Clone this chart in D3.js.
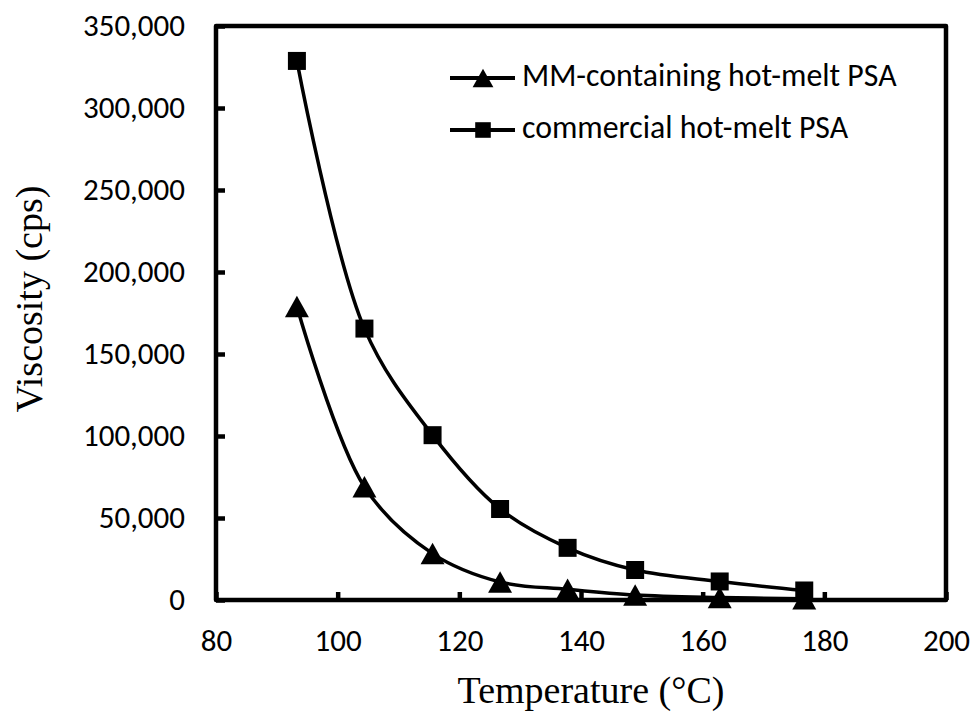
<!DOCTYPE html>
<html>
<head>
<meta charset="utf-8">
<script src="https://cdn.jsdelivr.net/npm/d3@7"></script>
<style>
  body { margin: 0; background: #fff; }
  .tick text { font-family: Calibri, Carlito, "Open Sans", sans-serif; font-size: 31px; fill: #000; }
  .axisTitle { font-family: "Liberation Serif", "Times New Roman", serif; font-size: 38px; fill: #000; }
  .legendText { font-family: Calibri, Carlito, "Open Sans", sans-serif; font-size: 31.8px; fill: #000; }
</style>
</head>
<body>
<svg id="chart" width="975" height="715"></svg>
<script>
// temperatures (°C) of the measurements
var temps = [93.3, 104.4, 115.6, 126.7, 137.8, 148.9, 162.8, 176.7];
// viscosity (cps)
var mmPSA = [179000, 69000, 28300, 11000, 6500, 3000, 1500, 800];
var commercialPSA = [328700, 165500, 100500, 55500, 31800, 18300, 11300, 5800];

var seriesNames = ["MM-containing hot-melt PSA", "commercial hot-melt PSA"];
var xTicks = [80, 100, 120, 140, 160, 180, 200];
var yTicks = [0, 50000, 100000, 150000, 200000, 250000, 300000, 350000];

var svg = d3.select("#chart");

var x = d3.scaleLinear().domain([80, 200]).range([216, 946]);
var y = d3.scaleLinear().domain([0, 350000]).range([600, 26]);

// triangle with its bounding box centred on the point (like Excel markers)
var triangleType = {
    draw: function(context, size){
        var w = Math.sqrt(size) * 1.05, h = w * 0.9;
        context.moveTo(0, -h/2);
        context.lineTo(w/2, h/2);
        context.lineTo(-w/2, h/2);
        context.closePath();
    }
};

var series = [
    {name: seriesNames[0], values: mmPSA, symbol: triangleType, size: 520},
    {name: seriesNames[1], values: commercialPSA, symbol: d3.symbolSquare, size: 324}
];

// y axis (ticks pointing inwards)
svg.append("g")
    .attr("transform", "translate(" + x(80) + ",0)")
    .call(d3.axisLeft(y).tickValues(yTicks).tickSize(-9).tickPadding(31).tickFormat(d3.format(",")))
    .call(function(g){ g.select(".domain").remove(); })
    .call(function(g){ g.selectAll(".tick line").attr("stroke", "#000").attr("stroke-width", 4.5); });

// x axis
svg.append("g")
    .attr("transform", "translate(0," + y(0) + ")")
    .call(d3.axisBottom(x).tickValues(xTicks).tickSize(-8).tickPadding(29))
    .call(function(g){ g.select(".domain").remove(); })
    .call(function(g){ g.selectAll(".tick line").attr("stroke", "#000").attr("stroke-width", 4.5); });

// plot frame
svg.append("rect")
    .attr("x", x(80))
    .attr("y", y(350000))
    .attr("width", x(200) - x(80))
    .attr("height", y(0) - y(350000))
    .attr("fill", "none")
    .attr("stroke", "#000")
    .attr("stroke-width", 4.5)
    .attr("stroke-linejoin", "round");

var line = d3.line()
    .x(function(d){ return x(d[0]); })
    .y(function(d){ return y(d[1]); })
    .curve(d3.curveCatmullRom);

series.forEach(function(s){
    var pts = temps.map(function(t, i){ return [t, s.values[i]]; });

    svg.append("path")
        .attr("d", line(pts))
        .attr("fill", "none")
        .attr("stroke", "#000")
        .attr("stroke-width", 3.5);

    svg.append("g").selectAll("path").data(pts).enter()
        .append("path")
        .attr("transform", function(d){ return "translate(" + x(d[0]) + "," + y(d[1]) + ")"; })
        .attr("d", d3.symbol().type(s.symbol).size(s.size))
        .attr("fill", "#000");
});

// legend
var legend = svg.append("g").selectAll("g").data(series).enter()
    .append("g")
    .attr("transform", function(d, i){ return "translate(450," + (78 + i * 52) + ")"; });

legend.append("line")
    .attr("x1", 0).attr("x2", 65)
    .attr("stroke", "#000")
    .attr("stroke-width", 4);

legend.append("path")
    .attr("transform", "translate(33,0)")
    .attr("d", function(d){ return d3.symbol().type(d.symbol).size(d.size * 0.75)(); })
    .attr("fill", "#000");

legend.append("text")
    .attr("class", "legendText")
    .attr("x", 72)
    .attr("y", 8)
    .text(function(d){ return d.name; });

// axis titles
svg.append("text")
    .attr("class", "axisTitle")
    .attr("x", 591)
    .attr("y", 703)
    .attr("text-anchor", "middle")
    .text("Temperature (°C)");

svg.append("text")
    .attr("class", "axisTitle")
    .attr("transform", "translate(42,299) rotate(-90)")
    .attr("text-anchor", "middle")
    .text("Viscosity (cps)");
</script>
</body>
</html>
